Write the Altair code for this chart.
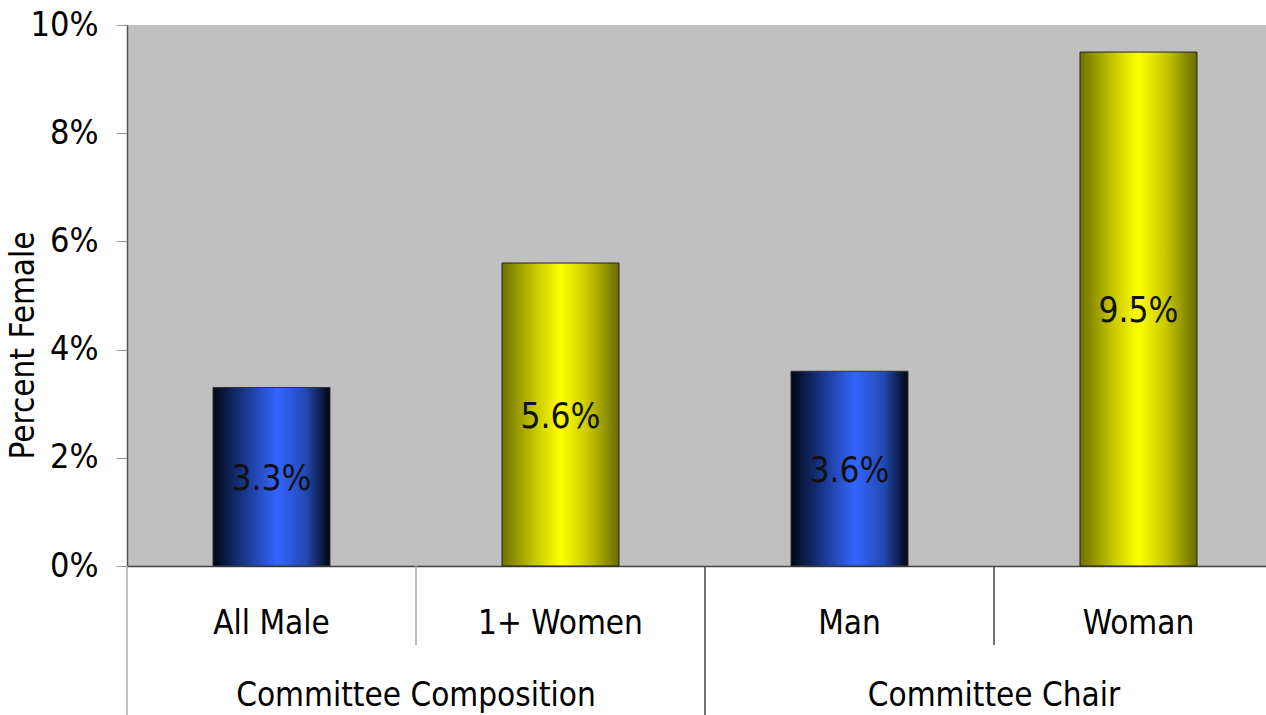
import altair as alt
import pandas as pd

categories = ["All Male", "1+ Women", "Man", "Woman"]
groups = ["Committee Composition", "Committee Composition", "Committee Chair", "Committee Chair"]
series = ["male", "female", "male", "female"]
values = [0.033, 0.056, 0.036, 0.095]
value_labels = ["3.3%", "5.6%", "3.6%", "9.5%"]
y_ticks = [0, 0.02, 0.04, 0.06, 0.08, 0.10]

group_names = ["Committee Composition", "Committee Chair"]
group_anchor = ["1+ Women", "Woman"]  # label centred at left edge of this band

FONT = "DejaVu Sans Condensed, DejaVu Sans"

df = pd.DataFrame({"category": categories, "group": groups, "series": series,
                   "value": values, "label": value_labels})
gdf = pd.DataFrame({"category": group_anchor, "group": group_names})
sep_df = pd.DataFrame({"category": categories, "group": groups,
                       "start": [categories[i] == [c for c, g in zip(categories, groups) if g == groups[i]][0]
                                 for i in range(len(categories))]})

blue_grad = alt.Gradient(gradient="linear", x1=0, x2=1, y1=0, y2=0, stops=[
    alt.GradientStop(color="#000814", offset=0),
    alt.GradientStop(color="#1c3c9a", offset=0.3),
    alt.GradientStop(color="#3366ff", offset=0.55),
    alt.GradientStop(color="#2248b0", offset=0.8),
    alt.GradientStop(color="#00040c", offset=1),
])
yellow_grad = alt.Gradient(gradient="linear", x1=0, x2=1, y1=0, y2=0, stops=[
    alt.GradientStop(color="#707000", offset=0),
    alt.GradientStop(color="#cccc00", offset=0.3),
    alt.GradientStop(color="#ffff00", offset=0.5),
    alt.GradientStop(color="#cccc00", offset=0.72),
    alt.GradientStop(color="#6a6a00", offset=1),
])

xscale = alt.Scale(domain=categories, range=[0, 1156], paddingInner=0, paddingOuter=0)
x_enc = alt.X("category:N", scale=xscale, sort=categories,
              axis=alt.Axis(title=None, labelAngle=0, labelFontSize=33, labelFont=FONT,
                            labelColor="#000", labelPadding=41, ticks=False,
                            domainColor="#444", domainWidth=1.5))
y_enc = alt.Y("value:Q", scale=alt.Scale(domain=[0, 0.1]),
              axis=alt.Axis(format=".0%", values=y_ticks, grid=False, tickSize=11,
                            tickColor="#999", domainColor="#555", domainWidth=1.5,
                            labelFontSize=34, labelFont=FONT, labelColor="#000",
                            labelPadding=18, title="Percent Female", titleFontSize=33,
                            titleFont=FONT, titleFontWeight="normal", titleColor="#000",
                            titleAngle=-90, titleX=-94, titleY=320,
                            titleBaseline="alphabetic", titleAlign="center"))

base = alt.Chart(df)
blue = base.transform_filter(alt.datum.series == "male").mark_bar(
    size=117, color=blue_grad, stroke="#333", strokeWidth=1).encode(x=x_enc, y=y_enc)
yellow = base.transform_filter(alt.datum.series == "female").mark_bar(
    size=117, color=yellow_grad, stroke="#222", strokeWidth=1).encode(x=x_enc, y=y_enc)
labels = base.transform_calculate(half="datum.value / 2").mark_text(
    fontSize=35, font=FONT, color="#111", baseline="middle", dy=2).encode(
    x=alt.X("category:N", scale=xscale),
    y=alt.Y("half:Q"), text="label:N")

long_rules = alt.Chart(sep_df).transform_filter(alt.datum.start).mark_rule(strokeWidth=1.5).encode(
    x=alt.X("category:N", scale=xscale, bandPosition=0),
    y=alt.value(541), y2=alt.value(690),
    color=alt.Color("group:N", scale=alt.Scale(domain=group_names, range=["#aaaaaa", "#444444"]), legend=None))
short_rules = alt.Chart(sep_df).transform_filter(~alt.datum.start).mark_rule(strokeWidth=1.5).encode(
    x=alt.X("category:N", scale=xscale, bandPosition=0),
    y=alt.value(541), y2=alt.value(620),
    color=alt.Color("group:N", scale=alt.Scale(domain=group_names, range=["#aaaaaa", "#444444"]), legend=None))
group_text = alt.Chart(gdf).mark_text(fontSize=33, font=FONT, color="#000", baseline="middle").encode(
    x=alt.X("category:N", scale=xscale, bandPosition=0),
    y=alt.value(671), text="group:N")

chart = alt.layer(blue, yellow, labels, long_rules, short_rules, group_text).properties(
    width=1139, height=541,
    autosize=alt.AutoSizeParams(type="none"),
    padding={"left": 127, "top": 25, "right": 0, "bottom": 149},
    background="white",
).configure_view(fill="#c0c0c0", stroke=None)

chart.save("out.html", embed_options={"renderer": "svg", "actions": False})
